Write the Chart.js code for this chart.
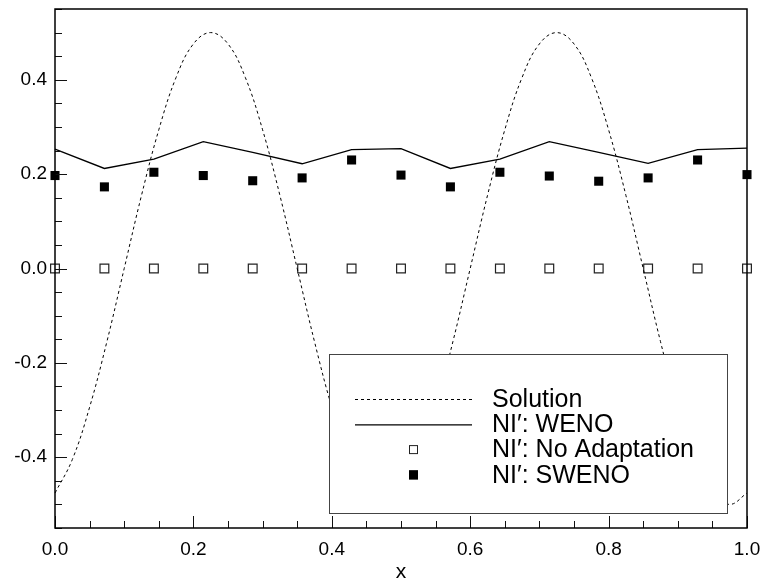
<!DOCTYPE html>
<html>
<head>
<meta charset="utf-8">
<script src="https://cdn.jsdelivr.net/npm/chart.js@4.4.1/dist/chart.umd.min.js"></script>
<style>
  body { margin: 0; background: #fff; }
  canvas { display: block; }
</style>
</head>
<body>
<canvas id="chart" width="767" height="585"></canvas>
<script>
// node positions and values
const xNodes = [0, 0.0714, 0.1429, 0.2143, 0.2857, 0.3571, 0.4286, 0.5, 0.5714, 0.6429, 0.7143, 0.7857, 0.8571, 0.9286, 1.0];
const wenoValues = [0.253, 0.212, 0.232, 0.269, 0.246, 0.222, 0.252, 0.254, 0.212, 0.232, 0.269, 0.246, 0.223, 0.252, 0.255];
const noAdaptValues = [0, 0, 0, 0, 0, 0, 0, 0, 0, 0, 0, 0, 0, 0, 0];
const swenoValues = [0.197, 0.173, 0.204, 0.197, 0.186, 0.192, 0.230, 0.198, 0.173, 0.204, 0.196, 0.185, 0.192, 0.230, 0.199];

// exact solution curve
const solX = [0, 0.025, 0.05, 0.075, 0.1, 0.125, 0.15, 0.175, 0.2, 0.225, 0.25, 0.275, 0.3, 0.325, 0.35, 0.375, 0.4, 0.425, 0.45, 0.475,
              0.5, 0.525, 0.55, 0.575, 0.6, 0.625, 0.65, 0.675, 0.7, 0.725, 0.75, 0.775, 0.8, 0.825, 0.85, 0.875, 0.9, 0.925, 0.95, 0.975, 1.0];
const solY = [-0.476, -0.405, -0.294, -0.155, 0, 0.155, 0.294, 0.405, 0.476, 0.5, 0.476, 0.405, 0.294, 0.155, 0, -0.155, -0.294, -0.405, -0.476, -0.5,
              -0.476, -0.405, -0.294, -0.155, 0, 0.155, 0.294, 0.405, 0.476, 0.5, 0.476, 0.405, 0.294, 0.155, 0, -0.155, -0.294, -0.405, -0.476, -0.5, -0.476];

const xTicks = [0, 0.2, 0.4, 0.6, 0.8, 1.0];
const yTicks = [-0.4, -0.2, 0, 0.2, 0.4];

const FONT = "'Liberation Sans', Arial, Helvetica, sans-serif";

const pts = (xs, ys) => xs.map((x, i) => ({ x: x, y: ys[i] }));

// frame + inward tick marks, tecplot style
const frameTicks = {
  id: 'frameTicks',
  afterDraw(chart) {
    const { ctx, chartArea: a, scales } = chart;
    ctx.save();
    ctx.strokeStyle = '#111';
    ctx.lineWidth = 1;
    ctx.beginPath();
    for (let v = -0.55; v <= 0.5501; v += 0.05) {
      const y = Math.round(scales.y.getPixelForValue(v)) + 0.5;
      const major = yTicks.some(t => Math.abs(t - v) < 1e-6);
      ctx.moveTo(a.left, y);
      ctx.lineTo(a.left + (major ? 12 : 7), y);
    }
    for (let v = 0; v <= 1.0001; v += 0.05) {
      const x = Math.round(scales.x.getPixelForValue(v)) + 0.5;
      const major = xTicks.some(t => Math.abs(t - v) < 1e-6);
      ctx.moveTo(x, a.bottom);
      ctx.lineTo(x, a.bottom - (major ? 12 : 7));
    }
    ctx.stroke();
    ctx.lineWidth = 1.5;
    ctx.strokeStyle = '#000';
    ctx.strokeRect(a.left, a.top, a.right - a.left, a.bottom - a.top);
    ctx.restore();
  }
};

// boxed legend drawn over the curves
const boxLegend = {
  id: 'boxLegend',
  afterDatasetsDraw(chart, args, opts) {
    const { ctx } = chart;
    const b = opts.box;
    ctx.save();
    ctx.fillStyle = '#fff';
    ctx.fillRect(b.left, b.top, b.right - b.left, b.bottom - b.top);
    ctx.strokeStyle = '#444';
    ctx.lineWidth = 1;
    ctx.strokeRect(b.left + 0.5, b.top + 0.5, b.right - b.left, b.bottom - b.top);
    ctx.font = '25px ' + FONT;
    ctx.textBaseline = 'middle';
    chart.data.datasets.forEach((ds, i) => {
      const y = b.firstRow + i * b.rowGap;
      const x0 = b.left + 26, x1 = b.left + 143, xm = (x0 + x1) / 2;
      ctx.strokeStyle = '#000';
      if (ds.showLine) {
        ctx.lineWidth = ds.borderWidth;
        ctx.setLineDash(ds.borderDash || []);
        ctx.beginPath();
        ctx.moveTo(x0, y + 0.5);
        ctx.lineTo(x1, y + 0.5);
        ctx.stroke();
        ctx.setLineDash([]);
      } else {
        const s = 4.5;
        ctx.fillStyle = ds.pointBackgroundColor;
        ctx.fillRect(xm - s, y - s, 2 * s, 2 * s);
        ctx.lineWidth = 1;
        ctx.strokeStyle = ds.pointBorderColor;
        ctx.strokeRect(xm - s + 0.5, y - s + 0.5, 2 * s - 1, 2 * s - 1);
      }
      ctx.fillStyle = '#000';
      ctx.fillText(ds.label, b.left + 163, y + 1);
    });
    ctx.restore();
  }
};

new Chart(document.getElementById('chart'), {
  type: 'scatter',
  data: {
    datasets: [
      {
        label: 'Solution',
        data: pts(solX, solY),
        showLine: true,
        borderColor: '#000',
        borderWidth: 1,
        borderDash: [3, 3],
        tension: 0.4,
        pointRadius: 0
      },
      {
        label: 'NI\u2032: WENO',
        data: pts(xNodes, wenoValues),
        showLine: true,
        borderColor: '#000',
        borderWidth: 1.3,
        pointRadius: 0
      },
      {
        label: 'NI\u2032: No Adaptation',
        data: pts(xNodes, noAdaptValues),
        showLine: false,
        pointStyle: 'rect',
        pointRadius: 6.2,
        pointBorderWidth: 1.2,
        pointBorderColor: '#222',
        pointBackgroundColor: '#fff'
      },
      {
        label: 'NI\u2032: SWENO',
        data: pts(xNodes, swenoValues),
        showLine: false,
        pointStyle: 'rect',
        pointRadius: 6.4,
        pointBorderWidth: 0,
        pointBorderColor: '#000',
        pointBackgroundColor: '#000'
      }
    ]
  },
  options: {
    responsive: false,
    devicePixelRatio: 1,
    animation: false,
    clip: false,
    layout: { padding: { left: 0, right: 20, top: 9, bottom: 0 } },
    plugins: {
      legend: { display: false },
      tooltip: { enabled: false },
      boxLegend: {
        box: { left: 329, top: 354, right: 727, bottom: 513, firstRow: 399, rowGap: 25.3 }
      }
    },
    scales: {
      x: {
        type: 'linear',
        min: 0,
        max: 1,
        grid: { display: false, drawTicks: false },
        border: { display: false },
        afterBuildTicks: s => { s.ticks = xTicks.map(v => ({ value: v })); },
        afterFit: s => { s.height = 57; s.paddingLeft = 0; s.paddingRight = 0; },
        ticks: {
          padding: 10,
          color: '#000',
          font: { family: FONT, size: 19 },
          callback: v => v.toFixed(1)
        },
        title: {
          display: true,
          text: 'x',
          color: '#000',
          font: { family: FONT, size: 21 },
          padding: { top: 0, bottom: 0 }
        }
      },
      y: {
        type: 'linear',
        min: -0.55,
        max: 0.55,
        grid: { display: false, drawTicks: false },
        border: { display: false },
        afterBuildTicks: s => { s.ticks = yTicks.map(v => ({ value: v })); },
        afterFit: s => { s.width = 55; s.paddingTop = 0; s.paddingBottom = 0; },
        ticks: {
          padding: 8,
          color: '#000',
          font: { family: FONT, size: 19 },
          callback: v => v.toFixed(1)
        }
      }
    }
  },
  plugins: [boxLegend, frameTicks]
});
</script>
</body>
</html>
